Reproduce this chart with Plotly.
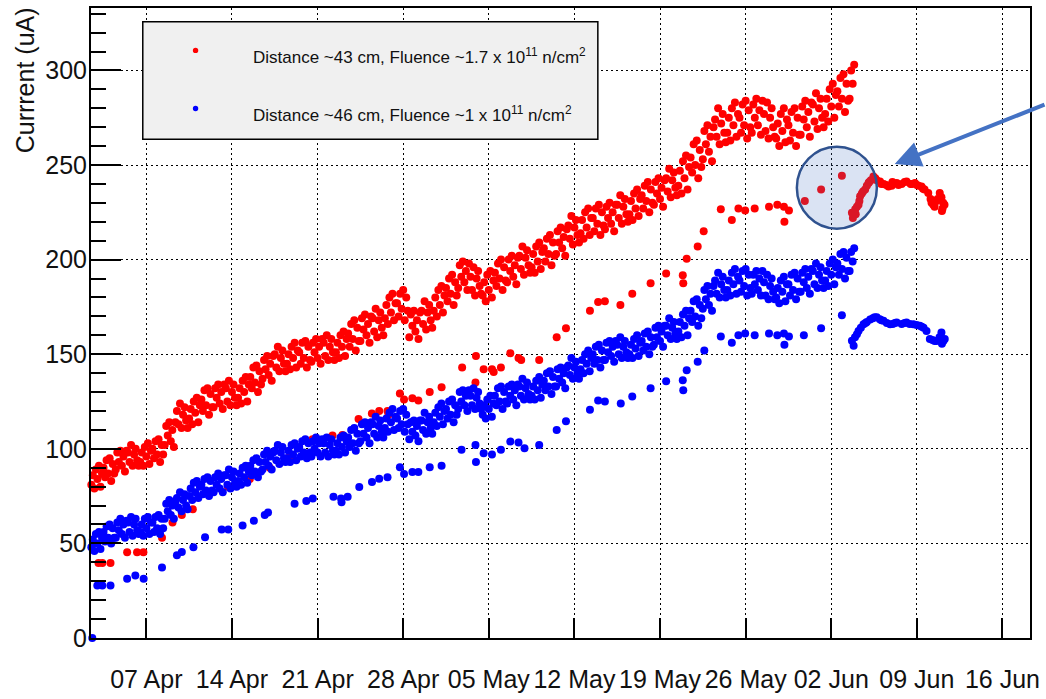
import pandas as pd
import plotly.graph_objects as go

# ---------------------------------------------------------------------------
# Data
# ---------------------------------------------------------------------------
# Dense logging of the two detector currents, one sample every 3 hours
BAND_START = "2017-04-02 12:00"
BAND_STEP = "3h"

RED_BAND = [
    81, 86, 79, 89, 84, 91, 80, 87,
    90, 85, 94, 87, 95, 83, 92, 87,
    89, 98, 93, 99, 91, 96, 88, 99,
    98, 93, 102, 91, 97, 100, 94, 91,
    93, 98, 91, 101, 96, 103, 92, 99,
    100, 95, 104, 97, 105, 93, 102, 97,
    102, 112, 107, 114, 104, 110, 101, 114,
    120, 113, 124, 111, 118, 122, 115, 111,
    116, 121, 113, 125, 119, 127, 114, 123,
    126, 120, 131, 123, 132, 118, 129, 122,
    122, 132, 127, 134, 124, 130, 121, 134,
    132, 125, 136, 123, 130, 134, 127, 123,
    127, 132, 124, 136, 130, 138, 125, 134,
    138, 132, 143, 135, 144, 130, 141, 134,
    137, 147, 142, 149, 139, 145, 136, 149,
    150, 143, 154, 141, 148, 152, 145, 141,
    145, 150, 142, 154, 148, 156, 143, 152,
    151, 145, 156, 148, 157, 143, 154, 147,
    146, 156, 151, 158, 148, 154, 145, 158,
    156, 149, 160, 147, 154, 158, 151, 147,
    151, 156, 148, 160, 154, 162, 149, 158,
    161, 154, 166, 158, 168, 152, 164, 157,
    157, 169, 163, 171, 160, 166, 156, 170,
    169, 162, 174, 159, 168, 172, 164, 160,
    169, 176, 166, 180, 172, 182, 168, 177,
    177, 170, 182, 174, 184, 168, 180, 173,
    159, 171, 165, 173, 162, 168, 158, 172,
    173, 166, 178, 163, 172, 176, 168, 164,
    173, 180, 170, 184, 176, 186, 172, 181,
    185, 178, 190, 182, 192, 176, 188, 181,
    185, 197, 191, 199, 188, 194, 184, 198,
    191, 184, 196, 181, 190, 194, 186, 182,
    181, 188, 178, 192, 184, 194, 180, 189,
    193, 186, 198, 190, 200, 184, 196, 189,
    188, 200, 194, 202, 191, 197, 187, 201,
    202, 195, 207, 192, 201, 205, 197, 193,
    196, 203, 193, 207, 199, 209, 195, 204,
    206, 199, 211, 203, 213, 197, 209, 202,
    203, 215, 209, 217, 206, 212, 202, 216,
    218, 211, 223, 208, 217, 221, 213, 209,
    214, 221, 211, 225, 217, 227, 213, 222,
    222, 215, 227, 219, 229, 213, 225, 218,
    216, 228, 222, 230, 219, 225, 215, 229,
    229, 222, 234, 219, 228, 232, 224, 220,
    224, 231, 221, 235, 227, 237, 223, 232,
    234, 227, 239, 231, 241, 225, 237, 230,
    229, 241, 235, 243, 232, 238, 228, 242,
    243, 236, 248, 233, 242, 246, 238, 234,
    239, 247, 235, 252, 243, 255, 237, 249,
    254, 246, 261, 250, 263, 243, 258, 249,
    253, 268, 261, 271, 257, 265, 252, 270,
    274, 265, 280, 261, 272, 277, 267, 262,
    267, 275, 263, 280, 271, 283, 265, 277,
    275, 267, 282, 271, 284, 264, 279, 270,
    267, 282, 275, 285, 271, 279, 266, 284,
    277, 268, 283, 264, 275, 280, 270, 265,
    264, 272, 260, 277, 268, 280, 262, 274,
    271, 263, 278, 267, 280, 260, 275, 266,
    266, 281, 274, 284, 270, 278, 265, 283,
    282, 273, 288, 269, 280, 285, 275, 270,
    277, 285, 273, 290, 281, 293, 275, 287,
    289, 281, 296, 285, 298, 278, 293, 284,
    285, 300, 293, 303,
]

BLUE_BAND = [
    48, 52, 46, 55, 50, 56, 47, 53,
    56, 51, 59, 53, 60, 50, 58, 53,
    53, 61, 57, 63, 55, 60, 53, 62,
    61, 56, 64, 54, 60, 63, 57, 55,
    56, 60, 54, 63, 58, 64, 55, 61,
    61, 56, 64, 58, 65, 55, 63, 58,
    63, 71, 67, 73, 65, 70, 63, 72,
    74, 69, 77, 67, 73, 76, 70, 68,
    75, 79, 73, 82, 77, 83, 74, 80,
    81, 76, 84, 78, 85, 75, 83, 78,
    77, 85, 81, 87, 79, 84, 77, 86,
    86, 81, 89, 79, 85, 88, 82, 80,
    83, 87, 81, 90, 85, 91, 82, 88,
    91, 86, 94, 88, 95, 85, 93, 88,
    89, 97, 93, 99, 91, 96, 89, 98,
    99, 94, 102, 92, 98, 101, 95, 93,
    95, 99, 93, 102, 97, 103, 94, 100,
    101, 96, 104, 98, 105, 95, 103, 98,
    96, 104, 100, 106, 98, 103, 96, 105,
    103, 98, 106, 96, 102, 105, 99, 97,
    99, 103, 97, 106, 101, 107, 98, 104,
    106, 101, 110, 103, 111, 99, 108, 103,
    104, 113, 108, 114, 106, 111, 103, 114,
    113, 108, 117, 106, 112, 115, 109, 106,
    111, 116, 109, 119, 114, 121, 110, 117,
    116, 111, 120, 113, 121, 109, 118, 113,
    105, 114, 109, 115, 107, 112, 104, 115,
    115, 110, 119, 108, 114, 117, 111, 108,
    114, 119, 112, 122, 117, 124, 113, 120,
    121, 116, 125, 118, 126, 114, 123, 118,
    121, 130, 125, 131, 123, 128, 120, 131,
    128, 123, 132, 121, 127, 130, 124, 121,
    118, 123, 116, 126, 121, 128, 117, 124,
    128, 123, 132, 125, 133, 121, 130, 125,
    124, 133, 128, 134, 126, 131, 123, 134,
    133, 128, 137, 126, 132, 135, 129, 126,
    128, 133, 126, 136, 131, 138, 127, 134,
    136, 131, 140, 133, 141, 129, 138, 133,
    133, 142, 137, 143, 135, 140, 132, 143,
    144, 139, 148, 137, 143, 146, 140, 137,
    142, 147, 140, 150, 145, 152, 141, 148,
    150, 145, 154, 147, 155, 143, 152, 147,
    147, 156, 151, 157, 149, 154, 146, 157,
    155, 150, 159, 148, 154, 157, 151, 148,
    150, 155, 148, 158, 153, 160, 149, 156,
    157, 152, 161, 154, 162, 150, 159, 154,
    155, 164, 159, 165, 157, 162, 154, 165,
    165, 160, 169, 158, 164, 167, 161, 158,
    162, 167, 159, 171, 165, 173, 160, 169,
    173, 167, 178, 170, 179, 165, 176, 169,
    174, 184, 179, 186, 176, 182, 173, 186,
    189, 182, 193, 180, 187, 191, 184, 180,
    184, 189, 181, 193, 187, 195, 182, 191,
    189, 183, 194, 186, 195, 181, 192, 185,
    182, 192, 187, 194, 184, 190, 181, 194,
    188, 181, 192, 179, 186, 190, 183, 179,
    180, 185, 177, 189, 183, 191, 178, 187,
    187, 181, 192, 184, 193, 179, 190, 183,
    183, 193, 188, 195, 185, 191, 182, 195,
    194, 187, 198, 185, 192, 196, 189, 185,
    189, 194, 186, 198, 192, 200, 187, 196,
    198, 192, 203, 195, 204, 190, 201, 194,
    194, 204, 199, 206,
]

# Occasional readings taken at lower current; times in days from 07 Apr 00:00
REF_DAY = "2017-04-07"

RED_LOW_DAY = [
    -3.91, -3.60, -2.93, -1.57, -0.76, -0.24, 1.28, 2.14, 2.90, 3.80,
    4.80, 6.67, 8.46, 10.09, 11.72, 13.59, 15.22, 16.03, 17.35, 18.44,
    19.04, 19.72, 19.80, 20.73, 21.07, 21.75, 22.24, 23.17, 24.14, 25.82,
    26.91, 26.95, 27.58, 28.26, 28.40, 28.99, 29.76, 30.43, 30.65, 32.12,
    33.55, 34.31, 36.27, 36.94, 37.49, 38.76, 39.73, 41.23, 42.50, 43.86,
    43.90, 44.18, 45.08, 45.57, 46.97, 47.87, 48.41, 48.96, 49.74, 50.91,
    51.59, 52.13, 52.17, 52.54, 53.84, 55.17, 56.87,
]
RED_LOW_VAL = [
    39.6, 39.6, 39.6, 45.3, 45.3, 45.3, 53, 61, 65, 68,
    76.5, 80, 84, 90, 96, 105, 107, 107.3, 115.8, 118.6,
    120, 120, 118, 129.3, 126, 126.7, 125.5, 130, 132.5, 143,
    135, 149, 142, 142, 140.6, 143, 150.5, 148, 147, 147,
    159, 163.7, 173, 177.6, 178, 176, 182, 187.5, 192.7, 191.8,
    187.5, 200.5, 207, 215, 226.6, 221, 227, 226, 227, 228,
    229, 228, 220, 226, 231, 237, 244.3,
]

BLUE_LOW_DAY = [
    -4.42, -4.01, -3.60, -2.93, -1.57, -0.90, -0.22, 1.28, 2.50, 2.90,
    3.85, 4.80, 6.16, 6.70, 7.87, 8.79, 9.68, 9.95, 12.12, 13.08,
    13.61, 15.30, 15.92, 15.96, 16.46, 17.41, 18.45, 19.04, 19.72, 20.73,
    21.07, 21.75, 22.24, 23.17, 24.14, 25.77, 26.91, 26.95, 27.58, 28.26,
    28.99, 29.76, 30.43, 30.92, 32.12, 33.55, 34.31, 36.27, 36.94, 37.49,
    38.79, 39.73, 41.23, 42.50, 43.86, 43.90, 44.18, 45.08, 45.62, 46.97,
    47.87, 48.41, 48.96, 49.74, 50.91, 51.59, 52.13, 52.17, 52.54, 53.76,
    55.17, 56.87,
]
BLUE_LOW_VAL = [
    0, 27.8, 27.8, 27.8, 31.3, 33, 31.3, 37.3, 43.7, 45.5,
    48, 53.3, 57.3, 57.3, 59.4, 62, 65, 66.3, 71, 72.4,
    73.8, 74.6, 73.8, 71.7, 74.6, 79.8, 82.5, 84.2, 85, 90.3,
    86.7, 87.7, 87.7, 90.3, 91, 99.5, 102, 93, 97.6, 97,
    99.5, 103.8, 103.3, 100.3, 102, 110, 114.6, 120.7, 125.5, 125,
    124, 127.6, 132, 135.7, 136.3, 131, 141.5, 146, 152, 159.4,
    156, 160, 161, 160, 161, 160, 161, 155, 159.4, 160,
    163.7, 170.6,
]

# Readings after the early-June intervention
RED_AFTER_DAY = [
    57.69, 57.77, 57.96, 58.00, 58.10, 58.23, 58.30, 58.36, 58.50, 58.60,
    58.77, 58.91, 59.05, 59.10, 59.24, 59.45, 59.60, 59.72, 59.99, 60.10,
    60.29, 60.50, 60.68, 60.94, 61.00, 61.35, 61.50, 61.76, 62.00, 62.16,
    62.49, 62.60, 62.84, 63.00, 63.14, 63.38, 63.50, 63.63, 63.93, 64.12,
    64.20, 64.34, 64.45, 64.61, 64.70, 64.87, 65.01, 65.15, 65.05, 65.10,
    65.26,
]
RED_AFTER_VAL = [
    224.8, 222, 226.6, 224, 228, 229, 231, 233.5, 235, 236,
    237, 239, 240.5, 241, 242, 244, 243, 242, 241.3, 240,
    240, 239.5, 238.7, 239, 241, 240.5, 239.5, 240, 241, 241.3,
    240, 240, 240.5, 239.5, 239, 238.7, 237.5, 237, 235.2, 232,
    230, 229, 228, 231, 232, 235.2, 233, 230, 225.7, 227,
    229,
]
BLUE_AFTER_DAY = [
    57.69, 57.83, 57.94, 58.10, 58.23, 58.42, 58.64, 58.80, 58.91, 59.18,
    59.40, 59.55, 59.72, 59.97, 60.10, 60.27, 60.54, 60.81, 61.03, 61.20,
    61.35, 61.76, 62.00, 62.16, 62.41, 62.71, 62.98, 63.24, 63.40, 63.55,
    63.79, 64.06, 64.28, 64.45, 64.61, 64.85, 65.01, 65.28, 65.05, 65.17,
]
BLUE_AFTER_VAL = [
    157.1, 154.5, 159, 160.5, 162.3, 164, 165.8, 166.5, 167, 168.4,
    169, 169.5, 169.6, 168.5, 168, 167.7, 166.5, 165.8, 166, 166.5,
    166.7, 166, 166.5, 166.7, 166, 165.8, 165.5, 165, 164.5, 164,
    162.3, 158, 157.5, 157, 157, 159, 161.5, 158, 155.5, 157,
]

WEEK_TICKS = ["2017-04-07", "2017-04-14", "2017-04-21", "2017-04-28",
              "2017-05-05", "2017-05-12", "2017-05-19", "2017-05-26",
              "2017-06-02", "2017-06-09", "2017-06-16"]
WEEK_LABELS = ["07 Apr", "14 Apr", "21 Apr", "28 Apr", "05 May", "12 May",
               "19 May", "26 May", "02 Jun", "09 Jun", "16 Jun"]

LEGEND_RED = "Distance ~43 cm, Fluence ~1.7 x 10<sup>11</sup> n/cm<sup>2</sup>"
LEGEND_BLUE = "Distance ~46 cm, Fluence ~1 x 10<sup>11</sup> n/cm<sup>2</sup>"

# ---------------------------------------------------------------------------
# Build time stamps
# ---------------------------------------------------------------------------
def band_times(n):
    return list(pd.date_range(BAND_START, periods=n, freq=BAND_STEP))


def day_times(days):
    base = pd.Timestamp(REF_DAY)
    return [base + pd.Timedelta(days=d) for d in days]


red_x = band_times(len(RED_BAND)) + day_times(RED_LOW_DAY) + day_times(RED_AFTER_DAY)
red_y = RED_BAND + RED_LOW_VAL + RED_AFTER_VAL
blue_x = band_times(len(BLUE_BAND)) + day_times(BLUE_LOW_DAY) + day_times(BLUE_AFTER_DAY)
blue_y = BLUE_BAND + BLUE_LOW_VAL + BLUE_AFTER_VAL

# ---------------------------------------------------------------------------
# Figure
# ---------------------------------------------------------------------------
W, H = 1046, 699
ML, MR, MT, MB = 91, 12, 6, 54
PW, PH = W - ML - MR, H - MT - MB
FONT = "Liberation Sans, Arial, Helvetica, sans-serif"


def px(xp):
    return (xp - ML) / PW


def py(yp):
    return (H - MB - yp) / PH


fig = go.Figure()
fig.add_trace(go.Scatter(x=red_x, y=red_y, mode="markers", name="43 cm",
                         marker=dict(color="#ff0000", size=8, line=dict(width=0)),
                         cliponaxis=False, showlegend=False))
fig.add_trace(go.Scatter(x=blue_x, y=blue_y, mode="markers", name="46 cm",
                         marker=dict(color="#0000ff", size=8, line=dict(width=0)),
                         cliponaxis=False, showlegend=False))

grid = dict(showgrid=True, gridcolor="black", gridwidth=1, griddash="2px,3px")
frame = dict(showline=True, linecolor="black", linewidth=2, mirror=True,
             zeroline=False, ticks="inside", tickcolor="black", tickwidth=1.5)

fig.update_xaxes(type="date", range=["2017-04-02 11:24", "2017-06-18 06:00"],
                 tickvals=WEEK_TICKS, ticktext=WEEK_LABELS, tickangle=0,
                 ticklen=20, tickfont=dict(family=FONT, size=25, color="#111111"),
                 ticklabelstandoff=18, **grid, **frame)
fig.update_yaxes(range=[0, 333], tick0=0, dtick=50, ticklen=30,
                 tickfont=dict(family=FONT, size=25, color="#111111"),
                 ticklabelstandoff=-3,
                 minor=dict(dtick=10, ticks="inside", ticklen=15, tickwidth=1.5,
                            tickcolor="black", showgrid=False),
                 **grid, **frame)

shapes = [
    # highlight circle around the early-June drop
    dict(type="circle", xref="x", yref="y", xsizemode="pixel", ysizemode="pixel",
         xanchor="2017-06-02 11:00", yanchor=238, x0=-40, x1=40, y0=-41, y1=41,
         fillcolor="rgba(68,114,196,0.2)", line=dict(color="#2f528f", width=2.5),
         layer="above"),
    # legend box
    dict(type="rect", xref="paper", yref="paper",
         x0=px(143), x1=px(600), y0=py(139), y1=py(20),
         fillcolor="#f0f0f0", line=dict(color="black", width=1.5), layer="above"),
]
for ypix, col in ((49, "#ff0000"), (108, "#0000ff")):
    shapes.append(dict(type="circle", xref="paper", yref="paper",
                       xsizemode="pixel", ysizemode="pixel",
                       xanchor=px(196), yanchor=py(ypix), x0=-2.7, x1=2.7, y0=-2.7, y1=2.7,
                       fillcolor=col, line=dict(width=0), layer="above"))

annotations = [
    dict(text="Currrent (uA)", textangle=-90, xref="paper", yref="paper",
         x=px(25), y=py(3), xanchor="center", yanchor="top", showarrow=False,
         font=dict(family=FONT, size=25, color="#111111")),
    dict(text=LEGEND_RED, xref="paper", yref="paper", x=px(252), y=py(55),
         xanchor="left", yanchor="middle", showarrow=False,
         font=dict(family=FONT, size=17, color="#111111")),
    dict(text=LEGEND_BLUE, xref="paper", yref="paper", x=px(252), y=py(114),
         xanchor="left", yanchor="middle", showarrow=False,
         font=dict(family=FONT, size=17, color="#111111")),
    # arrow pointing at the highlighted drop
    dict(text="", x="2017-06-07 04:30", y=250.5, xref="x", yref="y",
         ax=152, ay=-60, showarrow=True, arrowhead=2, arrowsize=1.3,
         arrowwidth=4, arrowcolor="#4472c4", standoff=0),
]

fig.update_layout(width=W, height=H, autosize=False,
                  margin=dict(l=ML, r=MR, t=MT, b=MB),
                  paper_bgcolor="white", plot_bgcolor="white",
                  shapes=shapes, annotations=annotations,
                  font=dict(family=FONT))

fig.write_html("out.html")
